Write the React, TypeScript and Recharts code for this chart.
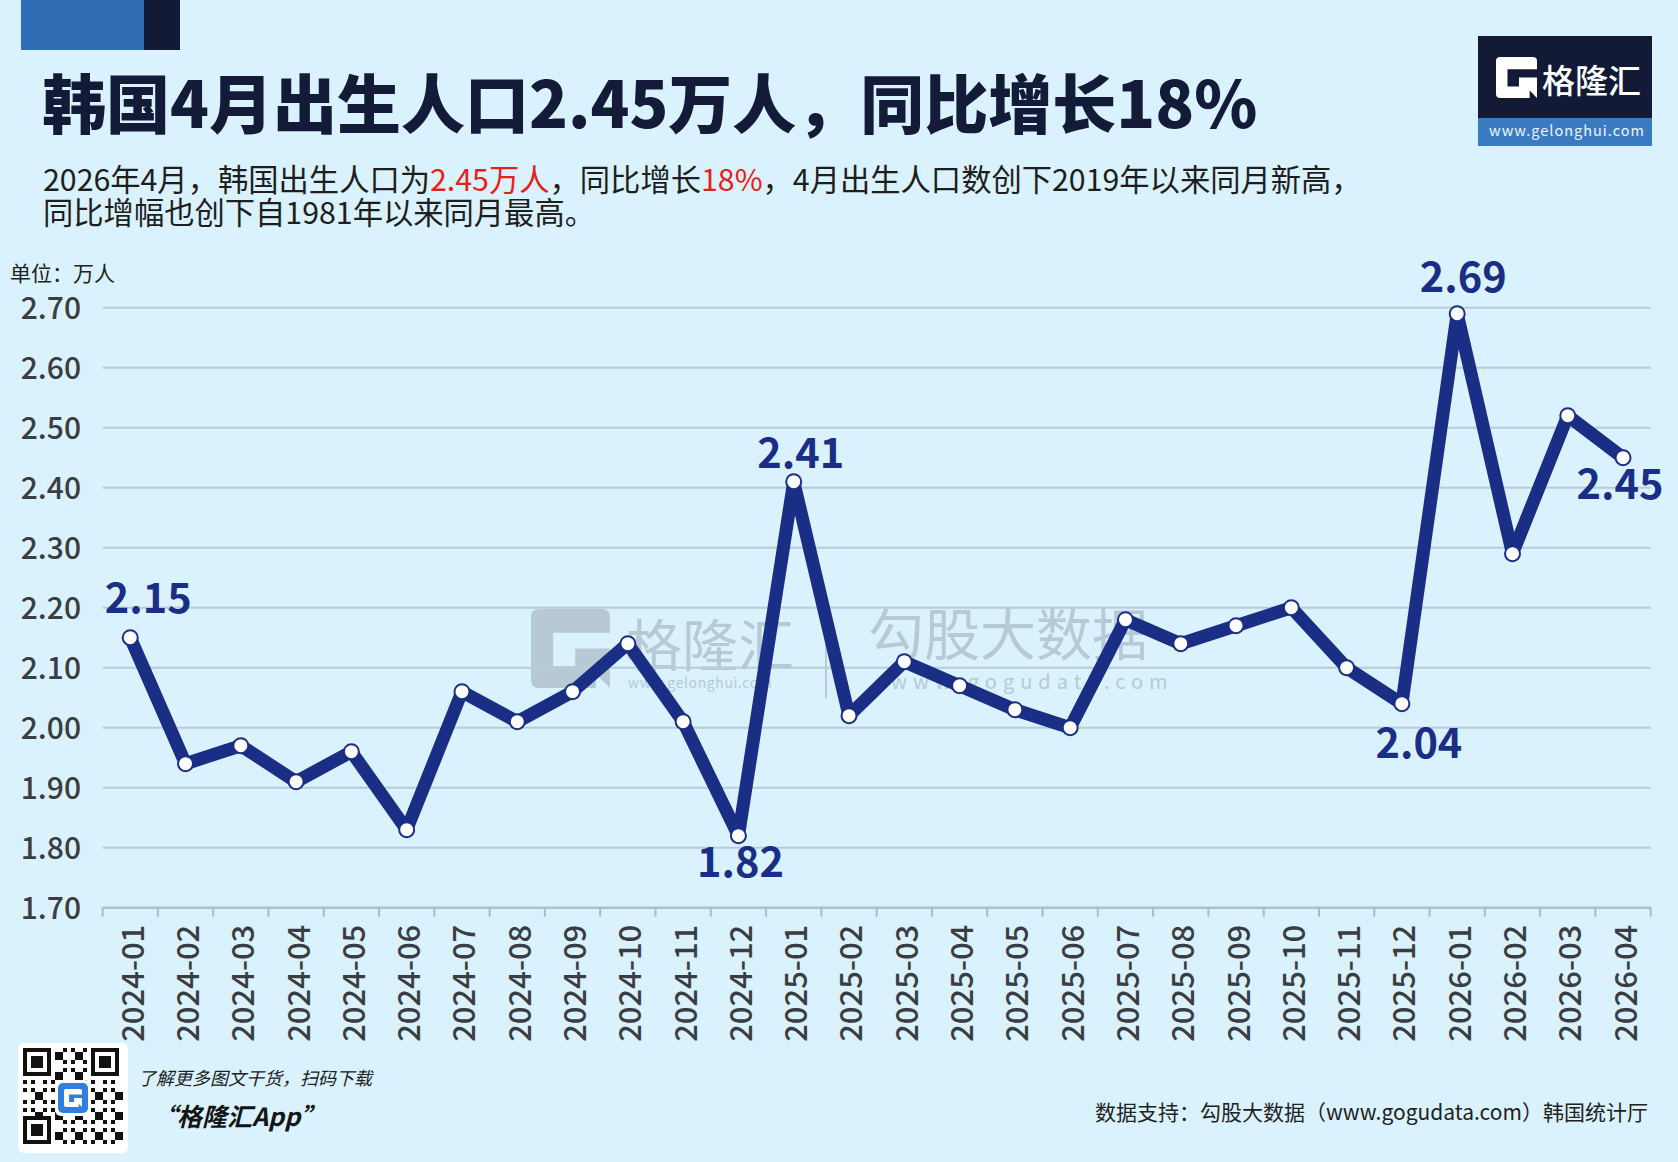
import React from 'react';
import { LineChart, Line, XAxis, YAxis, CartesianGrid, LabelList } from 'recharts';

const months = [
  '2024-01', '2024-02', '2024-03', '2024-04', '2024-05', '2024-06',
  '2024-07', '2024-08', '2024-09', '2024-10', '2024-11', '2024-12',
  '2025-01', '2025-02', '2025-03', '2025-04', '2025-05', '2025-06',
  '2025-07', '2025-08', '2025-09', '2025-10', '2025-11', '2025-12',
  '2026-01', '2026-02', '2026-03', '2026-04',
];

// 出生人口（万人）
const births = [
  2.15, 1.94, 1.97, 1.91, 1.96, 1.83, 2.06, 2.01, 2.06, 2.14, 2.01, 1.82,
  2.41, 2.02, 2.11, 2.07, 2.03, 2.0, 2.18, 2.14, 2.17, 2.2, 2.1, 2.04,
  2.69, 2.29, 2.52, 2.45,
];

const yTicks = [1.7, 1.8, 1.9, 2.0, 2.1, 2.2, 2.3, 2.4, 2.5, 2.6, 2.7];

const labeledMonths = ['2024-01', '2024-12', '2025-01', '2025-12', '2026-01', '2026-04'];

const rows = months.map((month, i) => ({ month, value: births[i] }));

const W = 1678;
const H = 1162;
const PLOT_LEFT = 102.6;
const PLOT_RIGHT = 1650.7;
const PLOT_TOP = 307.7;
const PLOT_BOTTOM = 907.7;
const XAXIS_H = 140;
const BAND = (PLOT_RIGHT - PLOT_LEFT) / months.length;

const BG = '#daf2fd';
const NAVY = '#1b2e85';
const GRID = '#b8ccd7';
const AXIS = '#a7bcc8';
const TICK_TEXT = '#3a3e44';
const CJK = '"Noto Sans CJK SC", "Noto Sans", sans-serif';

// label offsets (dx, dy to baseline) relative to the point
const LABEL_OFFSET: Record<string, [number, number]> = {
  '2024-01': [18, -25],
  '2024-12': [2, 41],
  '2025-01': [7, -14],
  '2025-12': [17, 54],
  '2026-01': [6, -22],
  '2026-04': [-3, 41],
};

function MonthTick(props: any) {
  const { x, payload, index } = props;
  const half = BAND / 2;
  const ty = PLOT_BOTTOM + 17;
  return (
    <g>
      <line x1={x - half} x2={x - half} y1={PLOT_BOTTOM} y2={PLOT_BOTTOM + 9} stroke={AXIS} strokeWidth={2} />
      {index === months.length - 1 && (
        <line x1={x + half} x2={x + half} y1={PLOT_BOTTOM} y2={PLOT_BOTTOM + 9} stroke={AXIS} strokeWidth={2} />
      )}
      <text
        x={x}
        y={ty}
        transform={`rotate(-90, ${x}, ${ty})`}
        textAnchor="end"
        dominantBaseline="central"
        fontSize={31}
        fontWeight={500}
        fontFamily={CJK}
        fill={TICK_TEXT}
      >
        {payload.value}
      </text>
    </g>
  );
}

function ValueTick(props: any) {
  const { y, payload } = props;
  return (
    <text x={81} y={y - 2} textAnchor="end" dominantBaseline="central" fontSize={30} fontWeight={500} fontFamily={CJK} fill={TICK_TEXT}>
      {Number(payload.value).toFixed(2)}
    </text>
  );
}

function PeakLabel(props: any) {
  const { x, y, value, index } = props;
  const m = months[index];
  if (!labeledMonths.includes(m)) return null;
  const [dx, dy] = LABEL_OFFSET[m];
  return (
    <text x={x + dx} y={y + dy} textAnchor="middle" fontSize={41.5} fontWeight={700} fontFamily={CJK} fill={NAVY}>
      {Number(value).toFixed(2)}
    </text>
  );
}

function GIcon({ x, y, s, fill }: { x: number; y: number; s: number; fill: string }) {
  return (
    <path
      transform={`translate(${x},${y}) scale(${s / 100})`}
      fill={fill}
      d="M10 0 H90 Q100 0 100 10 V30 H28 V72 H56 V50 H100 V100 L82 82 V100 H10 Q0 100 0 90 V10 Q0 0 10 0 Z"
    />
  );
}

function QrCode({ x, y }: { x: number; y: number }) {
  const n = 25;
  const m = 4;
  const cells: React.ReactNode[] = [];
  const inFinder = (i: number, j: number) =>
    (i < 8 && j < 8) || (i < 8 && j >= n - 8) || (i >= n - 8 && j < 8);
  for (let i = 0; i < n; i++) {
    for (let j = 0; j < n; j++) {
      if (inFinder(i, j)) continue;
      if ((i * 7 + j * 13 + i * j * 3) % 5 < 2) {
        cells.push(<rect key={`${i}-${j}`} x={x + 5 + j * m} y={y + 5 + i * m} width={m} height={m} fill="#111" />);
      }
    }
  }
  const finder = (fx: number, fy: number, k: string) => (
    <g key={k}>
      <rect x={fx} y={fy} width={28} height={28} fill="#111" />
      <rect x={fx + 4} y={fy + 4} width={20} height={20} fill="#fff" />
      <rect x={fx + 8} y={fy + 8} width={12} height={12} fill="#111" />
    </g>
  );
  return (
    <g>
      <rect x={x} y={y} width={110} height={110} rx={6} fill="#fff" />
      {cells}
      {finder(x + 5, y + 5, 'a')}
      {finder(x + 5 + 17 * m, y + 5, 'b')}
      {finder(x + 5, y + 5 + 17 * m, 'c')}
      <rect x={x + 37} y={y + 37} width={36} height={36} rx={6} fill="#fff" />
      <rect x={x + 40} y={y + 40} width={30} height={30} rx={5} fill="#2f7fe0" />
      <GIcon x={x + 46} y={y + 46} s={18} fill="#fff" />
    </g>
  );
}

function Backdrop() {
  return (
    <svg width={W} height={H} style={{ position: 'absolute', left: 0, top: 0 }}>
      <rect x={0} y={0} width={W} height={H} fill={BG} />
      {/* top-left bars */}
      <rect x={21} y={0} width={123} height={50} fill="#2f6db4" />
      <rect x={144} y={0} width={36} height={50} fill="#121a36" />

      {/* title */}
      <text x={42} y={128} fontSize={64} fontWeight={900} fontFamily={CJK} fill="#131b38">
        韩国4月出生人口2.45万人，同比增长18%
      </text>
      <text x={43} y={191} fontSize={30.3} fontFamily={CJK} fill="#1e1e1e">
        2026年4月，韩国出生人口为<tspan fill="#e3231b">2.45万人</tspan>，同比增长<tspan fill="#e3231b">18%</tspan>，4月出生人口数创下2019年以来同月新高，
      </text>
      <text x={43} y={224} fontSize={30.3} fontFamily={CJK} fill="#1e1e1e">
        同比增幅也创下自1981年以来同月最高。
      </text>
      <text x={10} y={281} fontSize={21} fontFamily={CJK} fill="#222">
        单位：万人
      </text>

      {/* brand box */}
      <rect x={1478} y={36} width={174} height={82} fill="#121a36" />
      <rect x={1478} y={118} width={174} height={28} fill="#3b7bc2" />
      <GIcon x={1496} y={57} s={41} fill="#fff" />
      <text x={1542} y={93} fontSize={33} fontWeight={500} fontFamily={CJK} fill="#fff">
        格隆汇
      </text>
      <text x={1567} y={136} textAnchor="middle" fontSize={14.5} letterSpacing={1} fontFamily={CJK} fill="#eef4fb">
        www.gelonghui.com
      </text>

      {/* watermarks */}
      <g opacity={0.7}>
        <GIcon x={531} y={609} s={79} fill="#a8b8c4" />
        <text x={626} y={666} fontSize={56} fontFamily={CJK} fill="#a8b8c4">
          格隆汇
        </text>
        <text x={628} y={688} fontSize={14} letterSpacing={0.6} fontFamily={CJK} fill="#a8b8c4">
          www.gelonghui.com
        </text>
        <line x1={826} x2={826} y1={618} y2={698} stroke="#a8b8c4" strokeWidth={2} />
        <text x={868} y={655} fontSize={56} fontFamily={CJK} fill="#a8b8c4">
          勾股大数据
        </text>
        <text x={891} y={689} fontSize={20} letterSpacing={6} fontFamily={CJK} fill="#a8b8c4">
          www.gogudata.com
        </text>
      </g>

      {/* footer */}
      <QrCode x={18} y={1043} />
      <text x={138} y={1085} fontSize={18} fontStyle="italic" fontFamily={CJK} fill="#222">
        了解更多图文干货，扫码下载
      </text>
      <text x={152} y={1126} fontSize={25} fontWeight={700} fontStyle="italic" fontFamily={CJK} fill="#151515">
        “格隆汇App”
      </text>
      <text x={1648} y={1120} textAnchor="end" fontSize={21} fontFamily={CJK} fill="#222">
        数据支持：勾股大数据（www.gogudata.com）韩国统计厅
      </text>
    </svg>
  );
}

export default function App() {
  return (
    <div style={{ position: 'absolute', left: 0, top: 0, width: W, height: H, overflow: 'hidden', background: BG }}>
      <Backdrop />
      <div style={{ position: 'absolute', left: 0, top: 0 }}>
        <LineChart
          width={W}
          height={H}
          data={rows}
          margin={{ top: PLOT_TOP, right: W - PLOT_RIGHT, left: 0, bottom: H - PLOT_BOTTOM - XAXIS_H }}
        >
          <CartesianGrid vertical={false} stroke={GRID} strokeWidth={2} />
          <XAxis
            dataKey="month"
            interval={0}
            height={XAXIS_H}
            padding={{ left: BAND / 2, right: BAND / 2 }}
            tickLine={false}
            axisLine={{ stroke: AXIS, strokeWidth: 2 }}
            tick={<MonthTick />}
          />
          <YAxis
            width={PLOT_LEFT}
            domain={[1.7, 2.7]}
            ticks={yTicks}
            axisLine={false}
            tickLine={false}
            tick={<ValueTick />}
          />
          <Line
            type="linear"
            dataKey="value"
            stroke={NAVY}
            strokeWidth={13}
            strokeLinejoin="round"
            dot={{ r: 7.5, fill: '#fff', stroke: NAVY, strokeWidth: 2 }}
            activeDot={false}
            isAnimationActive={false}
          >
            <LabelList dataKey="value" content={<PeakLabel />} />
          </Line>
        </LineChart>
      </div>
    </div>
  );
}
